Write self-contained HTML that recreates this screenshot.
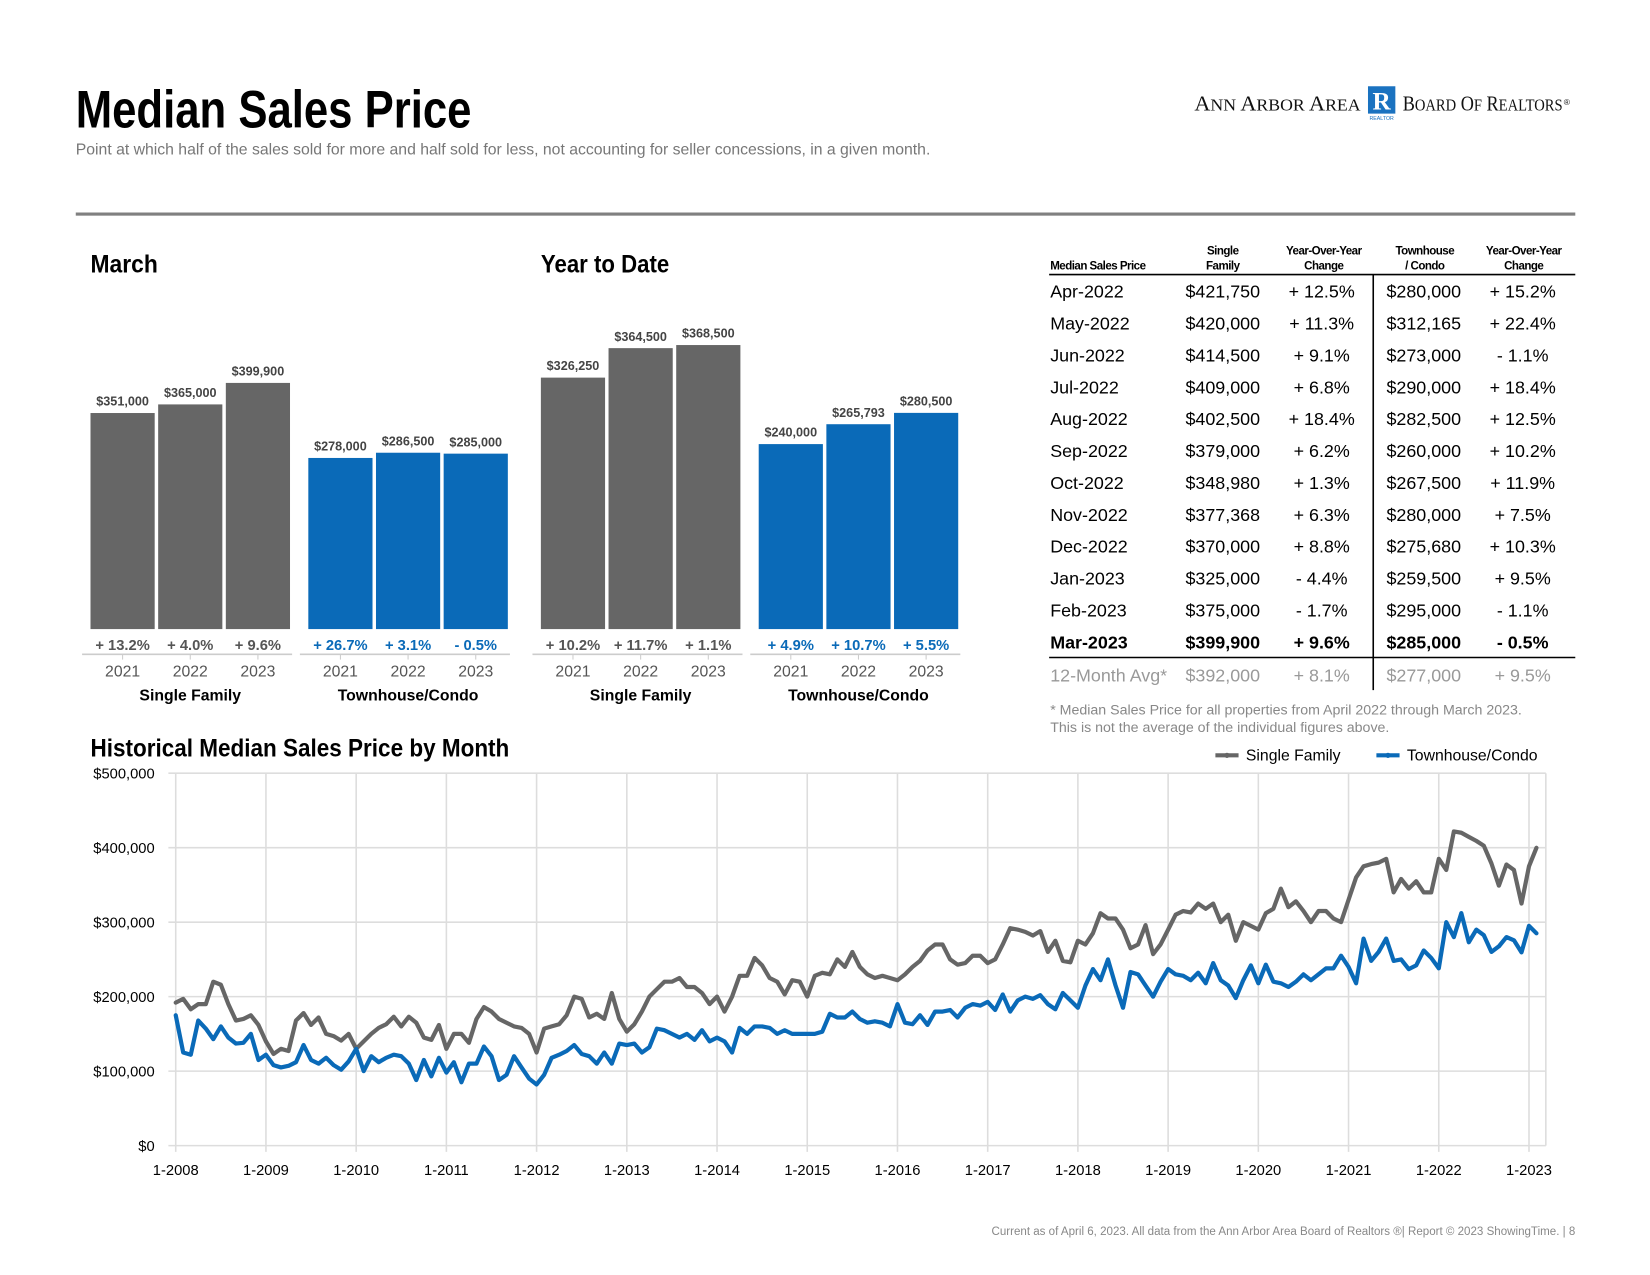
<!DOCTYPE html>
<html><head><meta charset="utf-8"><style>
html,body{margin:0;padding:0;background:#fff;}
svg{display:block;font-family:"Liberation Sans",Arial,sans-serif;}
.cond{font-family:"Liberation Sans Narrow","Liberation Sans",sans-serif;font-weight:bold;}
</style></head><body>
<svg id="page" width="1650" height="1275" viewBox="0 0 1568 1212" preserveAspectRatio="none" xmlns="http://www.w3.org/2000/svg">
<text x="72" y="121" class="cond" font-size="50" textLength="376" lengthAdjust="spacingAndGlyphs" fill="#000">Median Sales Price</text>
<text x="72" y="147" font-size="15" fill="#777">Point at which half of the sales sold for more and half sold for less, not accounting for seller concessions, in a given month.</text>
<g>
<text x="1135" y="105" font-family="Liberation Serif,serif" font-size="20" textLength="158" lengthAdjust="spacingAndGlyphs" fill="#111">A<tspan font-size="16">NN</tspan> A<tspan font-size="16">RBOR</tspan> A<tspan font-size="16">REA</tspan></text>
<rect x="1300" y="82" width="26" height="26" fill="#1a72c0"/>
<text x="1313" y="104" text-anchor="middle" font-family="Liberation Serif,serif" font-weight="bold" font-size="24" fill="#fff">R</text>
<text x="1313" y="114" text-anchor="middle" font-size="5" fill="#1a72c0">REALTOR</text>
<text x="1333" y="105" font-family="Liberation Serif,serif" font-size="20" textLength="152" lengthAdjust="spacingAndGlyphs" fill="#111">B<tspan font-size="16">OARD</tspan> O<tspan font-size="16">F</tspan> R<tspan font-size="16">EALTORS</tspan></text>
<text x="1486" y="100" font-size="8" fill="#111">®</text>
</g>
<rect x="72" y="202" width="1425" height="3" fill="#808080"/>

<text x="86" y="259" class="cond" font-size="24" textLength="64" lengthAdjust="spacingAndGlyphs">March</text>
<text x="514" y="259" class="cond" font-size="24" textLength="122" lengthAdjust="spacingAndGlyphs">Year to Date</text>
<g id="bars"></g>

<g id="table"></g>
<text x="998" y="679" font-size="13.5" fill="#888">* Median Sales Price for all properties from April 2022 through March 2023.</text>
<text x="998" y="696" font-size="13.5" fill="#888">This is not the average of the individual figures above.</text>

<text x="86" y="719" class="cond" font-size="24" textLength="398" lengthAdjust="spacingAndGlyphs">Historical Median Sales Price by Month</text>
<g>
<g><line x1="1155" y1="718" x2="1177" y2="718" stroke="#666" stroke-width="4"/><circle cx="1166" cy="718" r="2.5" fill="#666"/><text x="1184" y="723" font-size="15">Single Family</text></g>
<g><line x1="1308" y1="718" x2="1330" y2="718" stroke="#0a6ab8" stroke-width="4"/><circle cx="1319" cy="718" r="2.5" fill="#0a6ab8"/><text x="1337" y="723" font-size="15">Townhouse/Condo</text></g>
</g>
<g id="hist"></g>
<text x="1497" y="1174" text-anchor="end" font-size="11" fill="#888">Current as of April 6, 2023. All data from the Ann Arbor Area Board of Realtors ®| Report © 2023 ShowingTime.  |  8</text>
</svg>
<script>
// ---- bar chart data ----
const barYears = ["2021","2022","2023"];
const marchSF = [351000,365000,399900];
const marchTC = [278000,286500,285000];
const marchSFpct = ["+ 13.2%","+ 4.0%","+ 9.6%"];
const marchTCpct = ["+ 26.7%","+ 3.1%","- 0.5%"];
const ytdSF = [326250,364500,368500];
const ytdTC = [240000,265793,280500];
const ytdSFpct = ["+ 10.2%","+ 11.7%","+ 1.1%"];
const ytdTCpct = ["+ 4.9%","+ 10.7%","+ 5.5%"];

// ---- table data ----
const tblMonths = ["Apr-2022","May-2022","Jun-2022","Jul-2022","Aug-2022","Sep-2022","Oct-2022","Nov-2022","Dec-2022","Jan-2023","Feb-2023","Mar-2023","12-Month Avg*"];
const tblSF = ["$421,750","$420,000","$414,500","$409,000","$402,500","$379,000","$348,980","$377,368","$370,000","$325,000","$375,000","$399,900","$392,000"];
const tblSFchg = ["+ 12.5%","+ 11.3%","+ 9.1%","+ 6.8%","+ 18.4%","+ 6.2%","+ 1.3%","+ 6.3%","+ 8.8%","- 4.4%","- 1.7%","+ 9.6%","+ 8.1%"];
const tblTC = ["$280,000","$312,165","$273,000","$290,000","$282,500","$260,000","$267,500","$280,000","$275,680","$259,500","$295,000","$285,000","$277,000"];
const tblTCchg = ["+ 15.2%","+ 22.4%","- 1.1%","+ 18.4%","+ 12.5%","+ 10.2%","+ 11.9%","+ 7.5%","+ 10.3%","+ 9.5%","- 1.1%","- 0.5%","+ 9.5%"];

// ---- historical line data ($k), monthly from Jan 2008 ----
const histYearTicks = ["1-2008","1-2009","1-2010","1-2011","1-2012","1-2013","1-2014","1-2015","1-2016","1-2017","1-2018","1-2019","1-2020","1-2021","1-2022","1-2023"];
const yTicks = [0,100000,200000,300000,400000,500000];
const yTickLabels = ["$0","$100,000","$200,000","$300,000","$400,000","$500,000"];
const histSF = [
192,197,183,190,190,220,216,190,168,170,175,162,
140,123,130,127,168,178,162,172,150,147,141,150,
130,140,150,158,163,173,160,173,165,145,142,162,
130,150,150,138,170,186,180,170,165,160,158,150,
125,157,160,163,175,200,197,172,177,170,205,170,
153,163,180,200,210,220,220,225,213,213,205,190,
200,180,200,228,228,252,242,225,220,203,222,220,
200,228,232,230,250,240,260,240,230,225,228,225,
222,230,240,248,262,270,270,250,243,245,255,255,
245,250,270,292,290,287,282,288,260,275,248,246,
275,270,285,312,305,305,290,265,270,296,257,270,
290,310,315,313,325,318,325,300,310,275,300,295,
290,312,318,345,320,328,315,300,315,315,305,300,
330,360,375,378,380,385,340,358,345,355,340,340,
385,370,421.75,420,414.5,409,402.5,379,348.98,377.368,370,
325,375,399.9];
const histTC = [
175,125,122,168,157,143,160,145,137,138,150,115,
122,108,105,107,112,135,115,110,118,108,102,113,
130,100,120,112,118,122,120,110,88,115,93,118,
98,112,85,110,110,133,120,88,95,120,105,90,
82,95,118,122,127,135,123,120,110,125,110,137,
135,137,125,132,157,155,150,145,150,142,155,140,
145,140,125,158,150,160,160,158,150,155,150,150,
150,150,153,177,172,172,180,170,165,167,165,160,
190,165,163,175,162,180,180,182,172,185,190,188,
193,182,203,180,195,200,197,202,190,183,205,195,
185,215,237,222,250,215,185,233,230,215,200,220,
237,230,228,222,232,218,245,222,215,198,222,242,
218,243,220,218,213,220,230,222,230,238,238,255,
240,218,278,248,260,278,248,250,237,242,262,252,
238,300,280,312.165,273,290,282.5,260,267.5,280,275.68,
259.5,295,285];

const NS="http://www.w3.org/2000/svg";
function mk(tag,attrs,parent,txt){const e=document.createElementNS(NS,tag);for(const k in attrs)e.setAttribute(k,attrs[k]);if(txt!==undefined)e.textContent=txt;parent.appendChild(e);return e;}
function fmt(v){return "$"+v.toLocaleString("en-US");}

// ---- bars ----
const barsG=document.getElementById('bars');
const baseY=598;
function drawGroup(vals,pcts,x0,scale,color,pctColor,label,nm){
  const g=mk('g',{},barsG);
  
  
  const bw=61, gap=3.3;
  vals.forEach((v,i)=>{
    const x=x0+i*(bw+gap), h=v*scale;
    const r=mk('rect',{x:x,y:baseY-h,width:bw,height:h,fill:color},g);
    
    
    const t=mk('text',{x:x+bw/2,y:baseY-h-7,'text-anchor':'middle','font-size':12,'font-weight':'bold',fill:'#444'},g,fmt(v));
    
    
    const p=mk('text',{x:x+bw/2,y:618,'text-anchor':'middle','font-size':14,'font-weight':'bold',fill:pctColor},g,pcts[i]);
    
    
    mk('line',{x1:x+bw/2,y1:622,x2:x+bw/2,y2:627,stroke:'#ccc'},g);
    const yl=mk('text',{x:x+bw/2,y:643,'text-anchor':'middle','font-size':15,fill:'#555'},g,barYears[i]);
    
    
  });
  mk('line',{x1:x0-8,y1:622,x2:x0+3*bw+2*gap+2,y2:622,stroke:'#ccc','stroke-width':1.5},g);
  const gl=mk('text',{x:x0+(3*bw+2*gap)/2,y:666,'text-anchor':'middle','font-size':15,'font-weight':'bold'},g,label);
  
  
}
const sM=234/399900, sY=270/368500;
drawGroup(marchSF,marchSFpct,86,sM,'#666','#555','Single Family','march-sf');
drawGroup(marchTC,marchTCpct,293,sM,'#0a6ab8','#0a6ab8','Townhouse/Condo','march-tc');
drawGroup(ytdSF,ytdSFpct,514,sY,'#666','#555','Single Family','ytd-sf');
drawGroup(ytdTC,ytdTCpct,721,sY,'#0a6ab8','#0a6ab8','Townhouse/Condo','ytd-tc');

// ---- table ----
const tb=document.getElementById('table');
const hdr=[["Median Sales Price","",998,'start'],["Single","Family",1162,'middle'],["Year-Over-Year","Change",1258,'middle'],["Townhouse","/ Condo",1354,'middle'],["Year-Over-Year","Change",1448,'middle']];
hdr.forEach((h,i)=>{
  if(i===0){const t=mk('text',{x:h[2],y:256,'font-size':11,'font-weight':'bold','letter-spacing':'-0.5'},tb,h[0]);}
  else{mk('text',{x:h[2],y:242,'text-anchor':'middle','font-size':11,'font-weight':'bold','letter-spacing':'-0.5'},tb,h[0]);
  const t=mk('text',{x:h[2],y:256,'text-anchor':'middle','font-size':11,'font-weight':'bold','letter-spacing':'-0.5'},tb,h[1]);
  }
});
mk('line',{x1:997,y1:261,x2:1497,y2:261,stroke:'#000','stroke-width':1.5},tb);
mk('line',{x1:997,y1:625,x2:1497,y2:625,stroke:'#000','stroke-width':1.5},tb);
mk('line',{x1:1305,y1:261,x2:1305,y2:656,stroke:'#000','stroke-width':1.5},tb);
tblMonths.forEach((m,i)=>{
  const y=283+i*30.3+(i===12?1:0);
  const bold=i===11, gray=i===12;
  const fill=gray?'#999':'#000', fw=bold?'bold':'normal';
  const row=mk('g',{'font-size':17,'font-weight':fw,fill:fill},tb);
  
  
  mk('text',{x:998,y:y},row,m);
  mk('text',{x:1162,y:y,'text-anchor':'middle'},row,tblSF[i]);
  mk('text',{x:1256,y:y,'text-anchor':'middle'},row,tblSFchg[i]);
  mk('text',{x:1353,y:y,'text-anchor':'middle'},row,tblTC[i]);
  mk('text',{x:1447,y:y,'text-anchor':'middle'},row,tblTCchg[i]);
});

// ---- historical line chart ----
const hg=document.getElementById('hist');
const X0=167, DX=(1453-167)/180, Y0=1089, YT=735, PR=1469;
const xS=i=>X0+i*DX;
const yS=v=>Y0-(v/500000)*(Y0-YT);
yTicks.forEach((v,i)=>{
  const gl=mk('line',{x1:160,y1:yS(v),x2:PR,y2:yS(v),stroke:'#ddd','stroke-width':1.5},hg);
  
  
  const t=mk('text',{x:147,y:yS(v)+5,'text-anchor':'end','font-size':14,fill:'#000'},hg,yTickLabels[i]);
  
  
});
histYearTicks.forEach((lab,i)=>{
  const x=xS(i*12);
  const gl=mk('line',{x1:x,y1:YT,x2:x,y2:Y0+6,stroke:'#ddd','stroke-width':1.5},hg);
  
  
  const t=mk('text',{x:x,y:1117,'text-anchor':'middle','font-size':14,fill:'#000'},hg,lab);
  
  
});
mk('line',{x1:PR,y1:YT,x2:PR,y2:Y0,stroke:'#ddd','stroke-width':1.5},hg);
function series(arr,color,nm){
  const pts=arr.map((v,i)=>xS(i).toFixed(1)+','+yS(v*1000).toFixed(1)).join(' ');
  const pl=mk('polyline',{points:pts,fill:'none',stroke:color,'stroke-width':4,'stroke-linejoin':'round','stroke-linecap':'round'},hg);
  
  
}
series(histSF,'#666','single-family-line');
series(histTC,'#0a6ab8','townhouse-condo-line');
</script>
</body></html>
